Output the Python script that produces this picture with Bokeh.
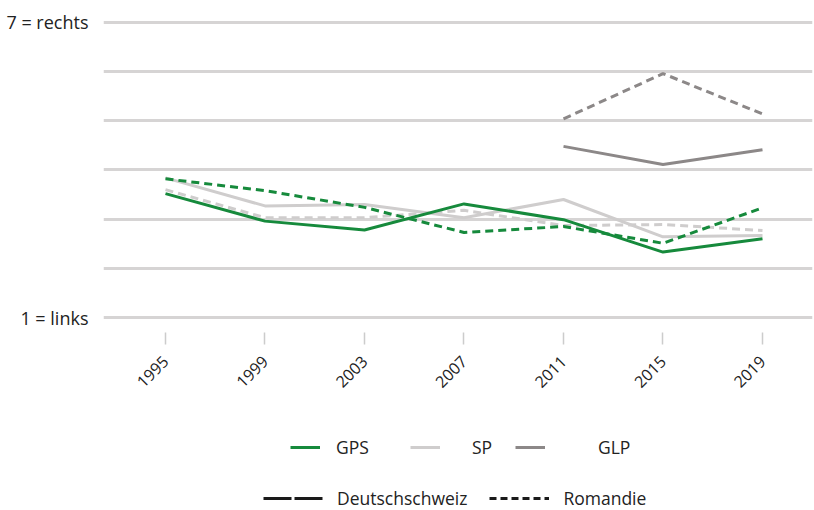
import math
from bokeh.plotting import figure
from bokeh.layouts import column
from bokeh.models import Range1d, FixedTicker, Legend, LegendItem, ColumnDataSource
from bokeh.embed import file_html
from bokeh.resources import INLINE

# ---- data ----
years = [1995, 1999, 2003, 2007, 2011, 2015, 2019]
year_labels = ["1995", "1999", "2003", "2007", "2011", "2015", "2019"]
gps_deutschschweiz = [3.52, 2.96, 2.78, 3.31, 2.99, 2.33, 2.60]
gps_romandie = [3.82, 3.58, 3.24, 2.73, 2.85, 2.51, 3.23]
sp_deutschschweiz = [3.84, 3.27, 3.30, 3.03, 3.40, 2.64, 2.67]
sp_romandie = [3.60, 3.03, 3.03, 3.18, 2.87, 2.89, 2.77]
glp_years = [2011, 2015, 2019]
glp_deutschschweiz = [4.48, 4.11, 4.41]
glp_romandie = [5.04, 5.96, 5.14]
scale_ticks = [1, 2, 3, 4, 5, 6, 7]
scale_labels = {1: "1 = links", 7: "7 = rechts"}
party_names = ["GPS", "SP", "GLP"]
region_names = ["Deutschschweiz", "Romandie"]

# ---- styles ----
GREEN = "#168a3c"
LIGHT = "#cfcdcd"
DARK = "#8c8888"
GRID = "#d6d4d4"
TEXT = "#222222"
FONT = "Open Sans"
DASH = "8 5"

p = figure(width=814, height=400, output_backend="svg", toolbar_location=None,
           x_range=Range1d(1992.508, 2021.01), y_range=Range1d(0.695, 7.203),
           min_border_left=103, min_border_right=2, min_border_top=12, min_border_bottom=68)
p.outline_line_color = None
p.background_fill_color = "white"
p.border_fill_color = "white"

# axes
p.xaxis.ticker = FixedTicker(ticks=years, minor_ticks=[])
p.xaxis.major_label_overrides = {y: l for y, l in zip(years, year_labels)}
p.xaxis.major_label_orientation = math.pi / 4
p.xaxis.axis_line_color = None
p.xaxis.major_tick_line_color = "#cccccc"
p.xaxis.major_tick_line_width = 1.5
p.xaxis.major_tick_out = 12
p.xaxis.major_tick_in = 0
p.xaxis.minor_tick_line_color = None
p.xaxis.major_label_standoff = 14
p.xaxis.major_label_text_font = FONT
p.xaxis.major_label_text_font_size = "16px"
p.xaxis.major_label_text_color = TEXT

p.yaxis.ticker = FixedTicker(ticks=[1, 7], minor_ticks=[])
p.yaxis.major_label_overrides = scale_labels
p.yaxis.axis_line_color = None
p.yaxis.major_tick_line_color = None
p.yaxis.minor_tick_line_color = None
p.yaxis.major_tick_out = 0
p.yaxis.major_tick_in = 0
p.yaxis.major_label_standoff = 15
p.yaxis.major_label_text_font = FONT
p.yaxis.major_label_text_font_size = "18px"
p.yaxis.major_label_text_color = TEXT

p.xgrid.grid_line_color = None
p.ygrid.ticker = FixedTicker(ticks=scale_ticks, minor_ticks=[])
p.ygrid.grid_line_color = GRID
p.ygrid.grid_line_width = 3

# lines
p.line(years, sp_deutschschweiz, line_color=LIGHT, line_width=3)
p.line(years, sp_romandie, line_color=LIGHT, line_width=3, line_dash=DASH)
p.line(glp_years, glp_deutschschweiz, line_color=DARK, line_width=3)
p.line(glp_years, glp_romandie, line_color=DARK, line_width=3, line_dash=DASH)
p.line(years, gps_deutschschweiz, line_color=GREEN, line_width=3)
p.line(years, gps_romandie, line_color=GREEN, line_width=3, line_dash=DASH)

# ---- legend panel ----
q = figure(width=814, height=110, output_backend="svg", toolbar_location=None,
           x_range=Range1d(0, 1), y_range=Range1d(0, 1),
           min_border_left=0, min_border_right=0, min_border_top=0, min_border_bottom=0)
q.axis.visible = False
q.grid.grid_line_color = None
q.outline_line_color = None

nan = float("nan")
empty = ColumnDataSource(dict(x=[nan, nan], y=[nan, nan]))
r_gps = q.line("x", "y", source=empty, line_color=GREEN, line_width=3)
r_sp = q.line("x", "y", source=empty, line_color=LIGHT, line_width=3)
r_glp = q.line("x", "y", source=empty, line_color=DARK, line_width=3)
r_ds = q.line("x", "y", source=empty, line_color="#1a1a1a", line_width=3, line_dash="28 3")
r_ro = q.line("x", "y", source=empty, line_color="#1a1a1a", line_width=3, line_dash="7 4")

def style_legend(lg):
    lg.orientation = "horizontal"
    lg.border_line_color = None
    lg.background_fill_alpha = 0
    lg.padding = 0
    lg.margin = 0
    lg.label_text_font = FONT
    lg.label_text_font_size = "17.5px"
    lg.label_text_color = TEXT
    lg.glyph_height = 18
    lg.label_height = 18
    lg.click_policy = "none"

# party legend: one legend per entry so each can sit where the reference has it
party_renderers = [r_gps, r_sp, r_glp]
party_offsets = [187, 307, 412]
party_standoffs = [16, 32, 53]
for name, rend, off, so in zip(party_names, party_renderers, party_offsets, party_standoffs):
    lg = Legend(items=[LegendItem(label=name, renderers=[rend])], location=(off, 51))
    style_legend(lg)
    lg.glyph_width = 30
    lg.label_standoff = so
    q.add_layout(lg)

leg2 = Legend(items=[LegendItem(label=n, renderers=[r]) for n, r in zip(region_names, [r_ds, r_ro])],
              location=(160, 0))
style_legend(leg2)
leg2.glyph_width = 60
leg2.label_standoff = 14
leg2.spacing = 22
q.add_layout(leg2)

layout = column(p, q, spacing=0)
open("out.html", "w").write(file_html(layout, INLINE))
